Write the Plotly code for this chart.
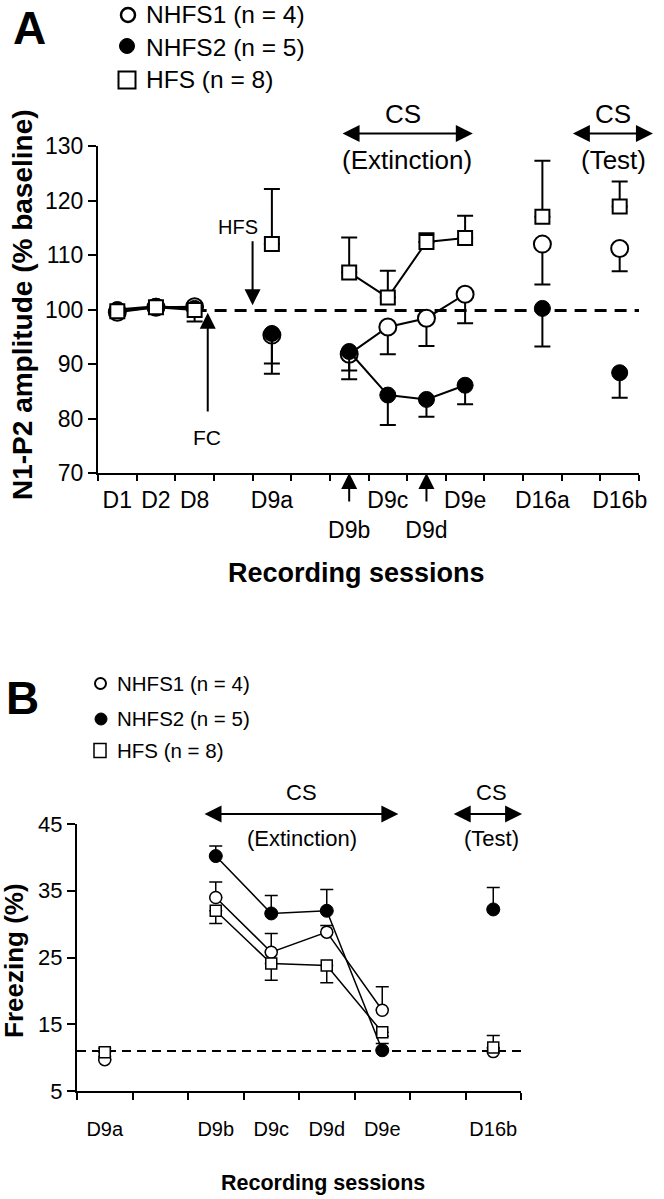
import plotly.graph_objects as go

W, H = 664, 1199

# ---------------- Panel A data (N1-P2 amplitude, % baseline) ----------------
sessions_A = ["D1", "D2", "D8", "D9a", "D9b", "D9c", "D9d", "D9e", "D16a", "D16b"]
slots_A = [0.5, 1.5, 2.5, 4.5, 6.5, 7.5, 8.5, 9.5, 11.5, 13.5]
tick_labels_A = ["D1", "D2", "D8", "D9a", " <br>D9b", "D9c", " <br>D9d", "D9e", "D16a", "D16b"]
segments_A = [1, 1, 1, 2, 3, 3, 3, 3, 4, 5]

nhfs1_A = [99.5, 100.4, 100.5, 95.3, 91.8, 96.8, 98.4, 102.8, 112.0, 111.2]
nhfs1_A_sem = [0.5, 0.3, 0.4, 5.2, 3.0, 5.0, 5.1, 5.3, 7.4, 4.2]
nhfs2_A = [100.0, 100.6, 100.2, 95.6, 92.3, 84.3, 83.5, 86.1, 100.2, 88.4]
nhfs2_A_sem = [0.5, 0.3, 2.4, 7.4, 5.1, 5.5, 3.2, 3.5, 7.0, 4.6]
hfs_A = [99.7, 100.4, 99.9, 112.0, 106.8, 102.2, 112.4, 113.1, 117.0, 118.9]
hfs_A_sem = [0.3, 0.3, 0.3, 10.1, 6.4, 4.9, 1.6, 4.1, 10.3, 4.6]
baseline_A = 99.8

# ---------------- Panel B data (Freezing %) ----------------
sessions_B = ["D9a", "D9b", "D9c", "D9d", "D9e", "D16b"]
slots_B = [0.5, 2.5, 3.5, 4.5, 5.5, 7.5]
tick_labels_B = ["D9a", "D9b", "D9c", "D9d", "D9e", "D16b"]
segments_B = [1, 2, 2, 2, 2, 3]

nhfs1_B = [9.7, 34.0, 25.8, 28.8, 17.1, 10.9]
nhfs1_B_sem = [0.5, 2.3, 2.8, 1.0, 3.5, 0.5]
nhfs2_B = [None, 40.2, 31.6, 32.0, 11.1, 32.2]
nhfs2_B_sem = [0.0, 1.5, 2.7, 3.2, 1.0, 3.3]
hfs_B = [10.8, 32.0, 24.1, 23.8, 13.8, 11.5]
hfs_B_sem_up = [0.6, 0.0, 0.0, 0.0, 0.0, 1.8]
hfs_B_sem_down = [0.0, 1.9, 2.5, 2.6, 0.6, 0.0]
baseline_B = 11.0

# ---------------- geometry (pixels) ----------------
A_L, A_R, A_T, A_B = 98, 639, 146, 473
B_L, B_R, B_T, B_B = 77, 521, 824, 1091
A_XR, A_YR = (0, 14), (70, 130)
B_XR, B_YR = (0, 8), (5, 45)

FONT = "Liberation Sans, Arial, sans-serif"


def xa(v):
    return (A_L + (v - A_XR[0]) / (A_XR[1] - A_XR[0]) * (A_R - A_L)) / W


def ya(v):
    return 1 - (A_B - (v - A_YR[0]) / (A_YR[1] - A_YR[0]) * (A_B - A_T)) / H


def xb(v):
    return (B_L + (v - B_XR[0]) / (B_XR[1] - B_XR[0]) * (B_R - B_L)) / W


def yb(v):
    return 1 - (B_B - (v - B_YR[0]) / (B_YR[1] - B_YR[0]) * (B_B - B_T)) / H


pxA = (A_R - A_L) / (A_XR[1] - A_XR[0])
pyA = (A_B - A_T) / (A_YR[1] - A_YR[0])
pxB = (B_R - B_L) / (B_XR[1] - B_XR[0])
pyB = (B_B - B_T) / (B_YR[1] - B_YR[0])


def seg_lines(xs, ys, segs):
    ox, oy = [], []
    prev = None
    for x, y, s in zip(xs, ys, segs):
        if prev is not None and s != prev:
            ox.append(None)
            oy.append(None)
        ox.append(x)
        oy.append(y)
        prev = s
    return ox, oy


fig = go.Figure()


def add_series(xs, ys, segs, up, down, symbol, fill, msize, lw, lwidth, capw, xaxis, yaxis):
    lx, ly = seg_lines(xs, ys, segs)
    fig.add_trace(go.Scatter(x=lx, y=ly, mode="lines", line=dict(color="black", width=lwidth),
                             xaxis=xaxis, yaxis=yaxis, hoverinfo="skip", connectgaps=False))
    fig.add_trace(go.Scatter(
        x=xs, y=ys, mode="markers",
        marker=dict(symbol=symbol, size=msize, color=fill, line=dict(color="black", width=lw)),
        error_y=dict(type="data", symmetric=False, array=up, arrayminus=down,
                     color="black", thickness=lwidth, width=capw),
        xaxis=xaxis, yaxis=yaxis))


zA = [0] * len(slots_A)
add_series(slots_A, nhfs1_A, segments_A, zA, nhfs1_A_sem, "circle", "white", 17, 2, 2, 8, "x", "y")
add_series(slots_A, nhfs2_A, segments_A, zA, nhfs2_A_sem, "circle", "black", 16, 1, 2, 8, "x", "y")
add_series(slots_A, hfs_A, segments_A, hfs_A_sem, zA, "square", "white", 14, 2, 2, 8, "x", "y")

zB = [0] * len(slots_B)
add_series(slots_B, nhfs1_B, segments_B, nhfs1_B_sem, zB, "circle", "white", 12, 1.5, 1.5, 6.5, "x2", "y2")
add_series(slots_B, nhfs2_B, segments_B, nhfs2_B_sem, zB, "circle", "black", 13, 1, 1.5, 6.5, "x2", "y2")
add_series(slots_B, hfs_B, segments_B, hfs_B_sem_up, hfs_B_sem_down, "square", "white", 11, 1.5, 1.5, 6.5, "x2", "y2")

shapes = [
    dict(type="line", xref="x", yref="y", x0=slots_A[2], x1=A_XR[1], y0=baseline_A, y1=baseline_A,
         line=dict(color="black", width=3, dash="12px,8px"), layer="below"),
    dict(type="line", xref="x2", yref="y2", x0=B_XR[0], x1=B_XR[1], y0=baseline_B, y1=baseline_B,
         line=dict(color="black", width=2, dash="9px,6px"), layer="below"),
]


def circ(cx, cy, d, fill, lw):
    return dict(type="circle", xref="paper", yref="paper",
                x0=(cx - d / 2) / W, x1=(cx + d / 2) / W,
                y0=1 - (cy + d / 2) / H, y1=1 - (cy - d / 2) / H,
                fillcolor=fill, line=dict(color="black", width=lw))


def rect(cx, cy, w, h, lw):
    return dict(type="rect", xref="paper", yref="paper",
                x0=(cx - w / 2) / W, x1=(cx + w / 2) / W,
                y0=1 - (cy + h / 2) / H, y1=1 - (cy - h / 2) / H,
                fillcolor="white", line=dict(color="black", width=lw))


# legend markers
shapes += [circ(128, 15, 14, "white", 2.5), circ(127, 46, 15, "black", 1), rect(127, 80, 17, 17, 2),
           circ(100.5, 683.5, 11, "white", 2), circ(101, 719, 12, "black", 1), rect(100, 750.5, 12, 14, 1.5)]

ann = []


def txt(x, y, s, size, bold=False, xanchor="center", angle=0, yanchor="middle"):
    ann.append(dict(x=x, y=y, xref="paper", yref="paper", text=("<b>%s</b>" % s) if bold else s,
                    showarrow=False, font=dict(family=FONT, size=size, color="black"),
                    xanchor=xanchor, yanchor=yanchor, textangle=angle))


def arrow(x, y, ax, ay, size=1.6, both=False):
    d = dict(x=x, y=y, xref="paper", yref="paper", ax=ax, ay=ay, axref="pixel", ayref="pixel",
             text="", showarrow=True, arrowhead=2, arrowsize=size, arrowwidth=2, arrowcolor="black",
             standoff=0, startstandoff=0)
    if both:
        d.update(arrowside="end+start", startarrowhead=2, startarrowsize=size)
    ann.append(d)


# ----- Panel A annotations -----
txt(29 / W, 1.0, "A", 46, bold=True, yanchor="top")
txt(144 / W, 1 - 15 / H, "NHFS1 (n = 4)", 24.5, xanchor="left")
txt(144 / W, 1 - 47 / H, "NHFS2 (n = 5)", 24.5, xanchor="left")
txt(144 / W, 1 - 80 / H, "HFS (n = 8)", 24.5, xanchor="left")
txt(xa(3.61), ya(115.1), "HFS", 20)
arrow(xa(4.0), ya(100.8), 0, -12.0 * pyA)
arrow(xa(2.84), ya(99.4), 0, 18.4 * pyA)
txt(xa(2.82), ya(76.6), "FC", 21)
arrow(xa(9.7), ya(132.3), -(9.7 - 6.29) * pxA, 0, size=1.7, both=True)
txt(xa(7.9), ya(135.8), "CS", 26)
txt(xa(8.0), ya(127.4), "(Extinction)", 26)
arrow(xa(14.36), ya(132.3), -(14.36 - 12.25) * pxA, 0, size=1.7, both=True)
txt(xa(13.33), ya(135.8), "CS", 26)
txt(xa(13.33), ya(127.4), "(Test)", 26)
arrow(xa(slots_A[4]), ya(A_YR[0]), 0, 30)
arrow(xa(slots_A[6]), ya(A_YR[0]), 0, 30)
txt(22 / W, 1 - 305 / H, "N1-P2 amplitude (% baseline)", 28, bold=True, angle=-90)
txt(356 / W, 1 - 573 / H, "Recording sessions", 27, bold=True)

# ----- Panel B annotations -----
txt(22 / W, 1 - 698 / H, "B", 46, bold=True)
txt(115 / W, 1 - 683 / H, "NHFS1 (n = 4)", 20.5, xanchor="left")
txt(115 / W, 1 - 718 / H, "NHFS2 (n = 5)", 20.5, xanchor="left")
txt(115 / W, 1 - 750 / H, "HFS (n = 8)", 20.5, xanchor="left")
arrow(xb(5.79), yb(46.5), -(5.79 - 2.27) * pxB, 0, size=1.7, both=True)
txt(xb(4.05), yb(49.65), "CS", 22)
txt(xb(4.05), yb(42.9), "(Extinction)", 22)
arrow(xb(8.02), yb(46.5), -(8.02 - 6.76) * pxB, 0, size=1.7, both=True)
txt(xb(7.47), yb(49.65), "CS", 22)
txt(xb(7.47), yb(42.9), "(Test)", 22)
txt(14 / W, 1 - 961 / H, "Freezing (%)", 26, bold=True, angle=-90)
txt(323 / W, 1 - 1183 / H, "Recording sessions", 21.5, bold=True)

axis_common = dict(showline=True, linecolor="black", linewidth=2, showgrid=False, zeroline=False,
                   mirror=False, tickcolor="black", automargin=False, tickangle=0)

fig.update_layout(
    template="none",
    width=W, height=H, margin=dict(l=0, r=0, t=0, b=0, pad=0),
    paper_bgcolor="white", plot_bgcolor="white", showlegend=False,
    font=dict(family=FONT, color="black"),
    xaxis=dict(domain=[A_L / W, A_R / W], range=list(A_XR), anchor="y",
               tickmode="array", tickvals=slots_A, ticktext=tick_labels_A, ticks="",
               tickfont=dict(size=23, family=FONT), ticklabelstandoff=5,
               minor=dict(ticks="outside", ticklen=6, tickwidth=2, tickcolor="black",
                          tickmode="linear", tick0=0, dtick=1, showgrid=False),
               **axis_common),
    yaxis=dict(domain=[1 - A_B / H, 1 - A_T / H], range=list(A_YR), anchor="x",
               tickmode="linear", tick0=70, dtick=10, ticks="outside", ticklen=8, tickwidth=2,
               tickfont=dict(size=23, family=FONT), **axis_common),
    xaxis2=dict(domain=[B_L / W, B_R / W], range=list(B_XR), anchor="y2",
                tickmode="array", tickvals=slots_B, ticktext=tick_labels_B, ticks="",
                tickfont=dict(size=20, family=FONT), ticklabelstandoff=19,
                minor=dict(ticks="outside", ticklen=7, tickwidth=2, tickcolor="black",
                           tickmode="linear", tick0=0, dtick=1, showgrid=False),
                **axis_common),
    yaxis2=dict(domain=[1 - B_B / H, 1 - B_T / H], range=list(B_YR), anchor="x2",
                tickmode="linear", tick0=5, dtick=10, ticks="outside", ticklen=8, tickwidth=2,
                tickfont=dict(size=22, family=FONT), **axis_common),
    shapes=shapes, annotations=ann,
)

fig.write_html("out.html", config={"displayModeBar": False},
               post_script="document.body.style.margin='0';document.body.style.overflow='hidden';")
